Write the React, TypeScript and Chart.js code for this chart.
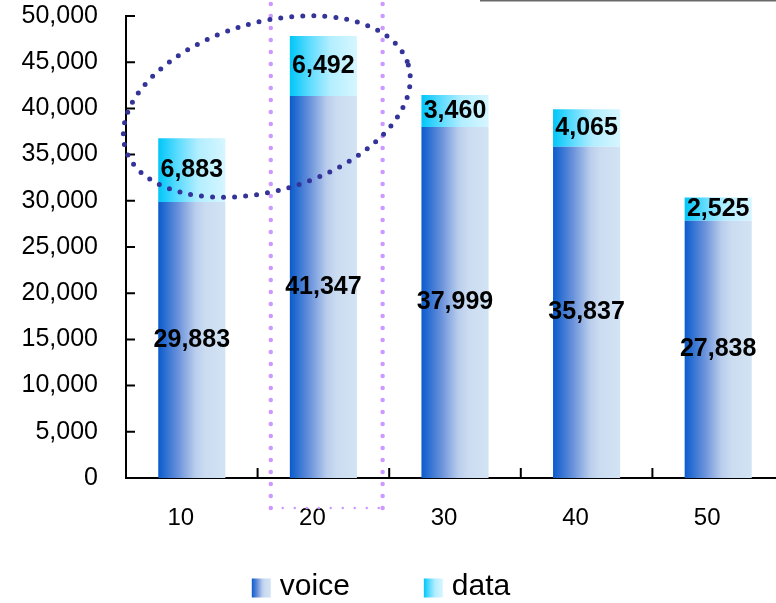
import React, { useEffect, useRef } from "react";
import { Chart, registerables } from "chart.js";

Chart.register(...registerables);

// ---------- data ----------
const categories = ["10", "20", "30", "40", "50"];
const seriesNames = ["voice", "data"];
const voiceValues = [29883, 41347, 37999, 35837, 27838];
const dataValues = [6883, 6492, 3460, 4065, 2525];
const yMin = 0;
const yMax = 50000;
const yStep = 5000;

// annotation anchors (data units)
const ellipseAnchor = { x: 0.57, y: 40200 };
const highlightAnchor = { xFrom: 0.6, xTo: 1.45, yFrom: -3250, yTo: 53000 };
const topRuleFrom = 2.19;

// ---------- styles ----------
const FONT = "'Liberation Sans', Arial, Helvetica, sans-serif";
const SHIFT_X = 58;
const CANVAS_W = 784 + SHIFT_X + 6;
const CANVAS_H = 612;
const CAT_PCT = 0.51;
const BAR_PCT = 1;
const LEGEND_BOX_W = 49;
const LEGEND_SWATCH = 19;
const LEGEND_GAP = 13;
const ELLIPSE_RX = 147.5;
const ELLIPSE_RY = 84;
const ELLIPSE_ROT = (-16.4 * Math.PI) / 180;

const voiceStops: [number, string][] = [
  [0, "#0a5bcc"],
  [0.3, "#6a92db"],
  [0.55, "#b9cdec"],
  [0.7, "#cbdcf1"],
  [1, "#d2e3f4"],
];
const dataStops: [number, string][] = [
  [0, "#00c6f8"],
  [0.3, "#5fdcff"],
  [0.6, "#b3eeff"],
  [1, "#d6f6ff"],
];
const stopsBySeries = [voiceStops, dataStops];

const fmt = (v: number) => Number(v).toLocaleString("en-US");

function barGradient(stops: [number, string][], fallback: string) {
  return (ctx: any) => {
    const chart = ctx.chart;
    const xs = chart.scales && chart.scales.x;
    if (!chart.chartArea || !xs || ctx.dataIndex === undefined) return fallback;
    const cx = xs.getPixelForValue(ctx.dataIndex);
    const w = (xs.width / categories.length) * CAT_PCT * BAR_PCT;
    const g = chart.ctx.createLinearGradient(cx - w / 2, 0, cx + w / 2, 0);
    stops.forEach(([o, c]) => g.addColorStop(o, c));
    return g;
  };
}

const decorPlugin = {
  id: "decor",
  afterDatasetsDraw(chart: any) {
    const c = chart.ctx;
    const xs = chart.scales.x;
    const ys = chart.scales.y;
    const area = chart.chartArea;
    c.save();
    // inward tick marks
    c.strokeStyle = "#000";
    c.lineWidth = 2;
    c.beginPath();
    ys.ticks.forEach((t: any) => {
      const py = ys.getPixelForValue(t.value);
      c.moveTo(area.left, py);
      c.lineTo(area.left + 9, py);
    });
    for (let k = 1; k <= categories.length; k++) {
      const px = xs.getPixelForValue(k - 0.5);
      c.moveTo(px, area.bottom);
      c.lineTo(px, area.bottom - 10);
    }
    c.stroke();

    // value labels
    c.fillStyle = "#000";
    c.font = `bold 25px ${FONT}`;
    c.textAlign = "center";
    c.textBaseline = "middle";
    chart.data.datasets.forEach((ds: any, di: number) => {
      const meta = chart.getDatasetMeta(di);
      meta.data.forEach((el: any, i: number) => {
        const p = el.getProps(["x", "y", "base"], true);
        c.fillText(fmt(ds.data[i]), p.x, (p.y + p.base) / 2);
      });
    });

    // highlight box (dotted violet)
    const l = xs.getPixelForValue(highlightAnchor.xFrom);
    const r = xs.getPixelForValue(highlightAnchor.xTo);
    const t = ys.getPixelForValue(highlightAnchor.yTo);
    const b = ys.getPixelForValue(highlightAnchor.yFrom);
    c.strokeStyle = "#cc99ff";
    c.lineCap = "round";
    c.setLineDash([0, 12]);
    c.lineWidth = 4.5;
    c.beginPath();
    c.moveTo(l, b);
    c.lineTo(l, t);
    c.moveTo(r, b);
    c.lineTo(r, t);
    c.stroke();
    c.lineWidth = 2.5;
    c.beginPath();
    c.moveTo(l, b);
    c.lineTo(r, b);
    c.stroke();

    // dotted ellipse
    const ex = xs.getPixelForValue(ellipseAnchor.x);
    const ey = ys.getPixelForValue(ellipseAnchor.y);
    c.strokeStyle = "#333399";
    c.lineWidth = 5;
    c.setLineDash([0, 11]);
    c.beginPath();
    c.ellipse(ex, ey, ELLIPSE_RX, ELLIPSE_RY, ELLIPSE_ROT, 0, Math.PI * 2);
    c.stroke();
    c.setLineDash([]);

    // top rule
    const gx = xs.getPixelForValue(topRuleFrom);
    c.fillStyle = "#6a6a6a";
    c.fillRect(gx, 0, chart.width - gx, 1.5);
    c.restore();
  },
  afterDraw(chart: any) {
    const legend = chart.legend;
    if (!legend || !legend.legendHitBoxes) return;
    const c = chart.ctx;
    c.save();
    legend.legendHitBoxes.forEach((hb: any, i: number) => {
      const left = hb.left + LEGEND_BOX_W - LEGEND_GAP;
      const top = hb.top + hb.height / 2 - LEGEND_SWATCH / 2 + 1;
      const g = c.createLinearGradient(left, 0, left + LEGEND_SWATCH, 0);
      stopsBySeries[i].forEach(([o, col]) => g.addColorStop(o, col));
      c.fillStyle = g;
      c.fillRect(left, top, LEGEND_SWATCH, LEGEND_SWATCH);
    });
    c.restore();
  },
};

export default function App() {
  const ref = useRef<HTMLCanvasElement>(null);
  useEffect(() => {
    const chart = new Chart(ref.current as HTMLCanvasElement, {
      type: "bar",
      data: {
        labels: categories,
        datasets: [
          {
            label: seriesNames[0],
            data: voiceValues,
            backgroundColor: barGradient(voiceStops, "#4a7fd4"),
            borderWidth: 0,
            categoryPercentage: CAT_PCT,
            barPercentage: BAR_PCT,
          },
          {
            label: seriesNames[1],
            data: dataValues,
            backgroundColor: barGradient(dataStops, "#60dcff"),
            borderWidth: 0,
            categoryPercentage: CAT_PCT,
            barPercentage: BAR_PCT,
          },
        ],
      },
      options: {
        responsive: false,
        animation: false,
        devicePixelRatio: 1,
        events: [],
        layout: { padding: { top: 16, right: 6, bottom: 0, left: 0 } },
        scales: {
          x: {
            stacked: true,
            grid: { display: false, drawTicks: false },
            border: { display: true, color: "#000", width: 2 },
            ticks: {
              color: "#000",
              font: { family: FONT, size: 24 },
              padding: 26,
              labelOffset: -11,
              maxRotation: 0,
              autoSkip: false,
            },
            afterFit: (s: any) => {
              s.height = 56;
            },
          },
          y: {
            stacked: true,
            min: yMin,
            max: yMax,
            grid: { display: false, drawTicks: false },
            border: { display: true, color: "#000", width: 2 },
            ticks: {
              stepSize: yStep,
              color: "#000",
              font: { family: FONT, size: 25 },
              padding: 28,
              callback: (v: any) => fmt(v),
            },
            afterFit: (s: any) => {
              s.width = 126 + SHIFT_X;
              s.paddingTop = 0;
              s.paddingBottom = 0;
            },
          },
        },
        plugins: {
          tooltip: { enabled: false },
          legend: {
            position: "bottom",
            labels: {
              boxWidth: LEGEND_BOX_W,
              boxHeight: 30,
              padding: 38,
              color: "#000",
              font: { family: FONT, size: 30 },
              generateLabels: (ch: any) =>
                ch.data.datasets.map((ds: any, i: number) => ({
                  text: ds.label,
                  fillStyle: "rgba(0,0,0,0)",
                  strokeStyle: "rgba(0,0,0,0)",
                  lineWidth: 0,
                  hidden: false,
                  datasetIndex: i,
                  fontColor: "#000",
                })),
            },
          },
        },
      } as any,
      plugins: [decorPlugin],
    });
    return () => chart.destroy();
  }, []);

  return (
    <div
      style={{
        position: "fixed",
        left: 0,
        top: 0,
        width: 776,
        height: 603,
        overflow: "hidden",
        background: "#fff",
      }}
    >
      <canvas
        ref={ref}
        width={CANVAS_W}
        height={CANVAS_H}
        style={{ position: "absolute", left: -SHIFT_X, top: 0, width: CANVAS_W, height: CANVAS_H }}
      />
    </div>
  );
}
